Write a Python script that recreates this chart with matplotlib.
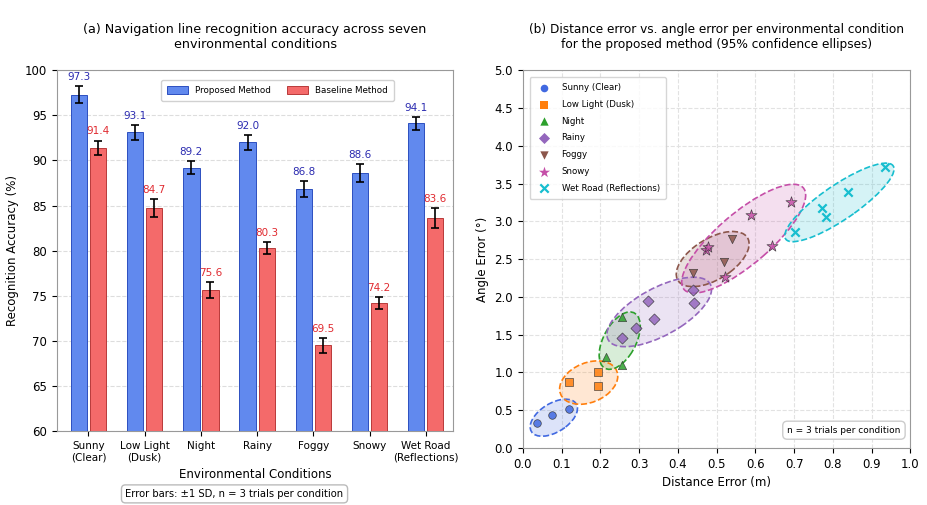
import numpy as np
import matplotlib
matplotlib.use("Agg")
import matplotlib.pyplot as plt
from matplotlib.patches import Ellipse
import matplotlib.transforms as transforms

# Panel (a): recognition accuracy per environmental condition
conditions = ["Sunny\n(Clear)", "Low Light\n(Dusk)", "Night", "Rainy", "Foggy", "Snowy",
              "Wet Road\n(Reflections)"]
proposed_acc = [97.3, 93.1, 89.2, 92.0, 86.8, 88.6, 94.1]
proposed_sd = [0.9, 0.8, 0.7, 0.8, 0.9, 1.0, 0.7]
baseline_acc = [91.4, 84.7, 75.6, 80.3, 69.5, 74.2, 83.6]
baseline_sd = [0.8, 1.0, 0.9, 0.7, 0.8, 0.7, 1.1]

# Panel (b): distance / angle error of the proposed method, per trial
groups = ["Sunny (Clear)", "Low Light (Dusk)", "Night", "Rainy", "Foggy", "Snowy",
          "Wet Road (Reflections)"]
dist_err = [
    [0.037, 0.074, 0.12],
    [0.12, 0.195, 0.195],
    [0.256, 0.215, 0.256],
    [0.256, 0.293, 0.322, 0.338, 0.441, 0.44],
    [0.44, 0.518, 0.54],
    [0.472, 0.478, 0.522, 0.589, 0.643, 0.692],
    [0.702, 0.772, 0.782, 0.84, 0.934],
]
angle_err = [
    [0.33, 0.44, 0.52],
    [0.87, 1.0, 0.82],
    [1.73, 1.2, 1.1],
    [1.46, 1.59, 1.94, 1.71, 1.92, 2.09],
    [2.31, 2.46, 2.76],
    [2.62, 2.66, 2.26, 3.08, 2.67, 3.25],
    [2.86, 3.17, 3.06, 3.39, 3.72],
]
# 95% confidence ellipses: centre, half extent along x / y, correlation
ell_cx = [0.08, 0.17, 0.25, 0.352, 0.49, 0.57, 0.817]
ell_cy = [0.40, 0.865, 1.42, 1.80, 2.50, 2.77, 3.25]
ell_rx = [0.061, 0.075, 0.053, 0.135, 0.094, 0.16, 0.141]
ell_ry = [0.245, 0.287, 0.38, 0.46, 0.365, 0.72, 0.52]
ell_rho = [0.5, 0.3, 0.5, 0.65, 0.55, 0.8, 0.85]

colors = ["#4169e1", "#ff7f0e", "#2ca02c", "#9467bd", "#8c564b", "#c54fa8", "#17becf"]
markers = ["o", "s", "^", "D", "v", "*", "x"]
msizes = [30, 30, 36, 32, 36, 70, 36]

fig = plt.figure(figsize=(9.27, 5.05), dpi=100)

# ---------------- (a) grouped bars ----------------
ax1 = fig.add_axes([0.0615, 0.1465, 0.4275, 0.7145])
x = np.arange(len(conditions))
w = 0.29
off = 0.17
err_kw = dict(ecolor="black", elinewidth=1.2, capsize=3, capthick=1.2)
ax1.bar(x - off, proposed_acc, w, yerr=proposed_sd, color="#6189ee", edgecolor="#2c4fc0",
        linewidth=0.7, label="Proposed Method", error_kw=err_kw, zorder=3)
ax1.bar(x + off, baseline_acc, w, yerr=baseline_sd, color="#f46a6a", edgecolor="#b83a3a",
        linewidth=0.7, label="Baseline Method", error_kw=err_kw, zorder=3)

for i in range(len(conditions)):
    ax1.text(x[i] - off, proposed_acc[i] + proposed_sd[i] + 0.45, f"{proposed_acc[i]:.1f}",
             ha="center", va="bottom", fontsize=7.5, color="#2b2bb0")
    ax1.text(x[i] + off, baseline_acc[i] + baseline_sd[i] + 0.45, f"{baseline_acc[i]:.1f}",
             ha="center", va="bottom", fontsize=7.5, color="#e02a30")

ax1.set_ylim(60, 100)
ax1.set_xlim(-0.56, 6.49)
ax1.set_xticks(x)
ax1.set_xticklabels(conditions, fontsize=7.5)
ax1.tick_params(axis="y", labelsize=8.5)
ax1.set_xlabel("Environmental Conditions", fontsize=8.5)
ax1.set_ylabel("Recognition Accuracy (%)", fontsize=8.5)
ax1.set_title("(a) Navigation line recognition accuracy across seven\nenvironmental conditions",
              fontsize=9.2, pad=16)
ax1.yaxis.grid(True, linestyle="--", color="#dddddd", linewidth=0.8, zorder=0)
ax1.set_axisbelow(True)
for s in ax1.spines.values():
    s.set_color("#999999")
ax1.legend(loc="upper center", bbox_to_anchor=(0.556, 0.985), ncol=2, fontsize=6.3,
           frameon=True, framealpha=0.9, edgecolor="#cccccc", borderpad=0.7,
           columnspacing=1.8, handlelength=2.4, handleheight=1.0)

fig.text(0.253, 0.022, "Error bars: \u00b11 SD, n = 3 trials per condition", ha="center",
         va="center", fontsize=7.2,
         bbox=dict(boxstyle="round,pad=0.4", facecolor="white", edgecolor="#bbbbbb"))

# ---------------- (b) scatter with confidence ellipses ----------------
ax2 = fig.add_axes([0.564, 0.113, 0.418, 0.748])
for k in range(len(groups)):
    c = colors[k]
    ell = Ellipse((0, 0), width=2 * np.sqrt(1 + ell_rho[k]), height=2 * np.sqrt(1 - ell_rho[k]),
                  facecolor=c, alpha=0.18, edgecolor="none", zorder=1)
    edge = Ellipse((0, 0), width=2 * np.sqrt(1 + ell_rho[k]), height=2 * np.sqrt(1 - ell_rho[k]),
                   facecolor="none", edgecolor=c, linestyle="--", linewidth=1.2, zorder=2)
    tr = (transforms.Affine2D().rotate_deg(45).scale(ell_rx[k], ell_ry[k])
          .translate(ell_cx[k], ell_cy[k]) + ax2.transData)
    ell.set_transform(tr)
    edge.set_transform(tr)
    ax2.add_patch(ell)
    ax2.add_patch(edge)
    if markers[k] == "x":
        ax2.scatter(dist_err[k], angle_err[k], s=msizes[k], marker="x", color=c,
                    linewidths=1.6, label=groups[k], zorder=4)
    else:
        ax2.scatter(dist_err[k], angle_err[k], s=msizes[k], marker=markers[k], color=c,
                    edgecolors="#333333", linewidths=0.5, alpha=0.85, label=groups[k], zorder=4)

ax2.set_xlim(0, 1.0)
ax2.set_ylim(0, 5.0)
ax2.set_xticks(np.arange(0, 1.01, 0.1))
ax2.set_yticks(np.arange(0, 5.01, 0.5))
ax2.tick_params(labelsize=8.5)
ax2.set_xlabel("Distance Error (m)", fontsize=8.5)
ax2.set_ylabel("Angle Error (\u00b0)", fontsize=8.5)
ax2.set_title("(b) Distance error vs. angle error per environmental condition\n"
              "for the proposed method (95% confidence ellipses)",
              fontsize=8.7, pad=16)
ax2.grid(True, linestyle="--", color="#e2e2e2", linewidth=0.8)
ax2.set_axisbelow(True)
for s in ax2.spines.values():
    s.set_color("#999999")
leg = ax2.legend(loc="upper left", fontsize=6.2, frameon=True, edgecolor="#cccccc",
                 borderpad=0.7, labelspacing=0.9, handletextpad=1.0, borderaxespad=0.8)
for h, m in zip(leg.legend_handles, markers):
    h.set_alpha(1)
    if m != "x":
        h.set_linewidth(0)
ax2.text(0.975, 0.035, "n = 3 trials per condition", transform=ax2.transAxes, ha="right",
         va="bottom", fontsize=6.5,
         bbox=dict(boxstyle="round,pad=0.5", facecolor="white", edgecolor="#cccccc"))

fig.savefig("out.png", dpi=100)
